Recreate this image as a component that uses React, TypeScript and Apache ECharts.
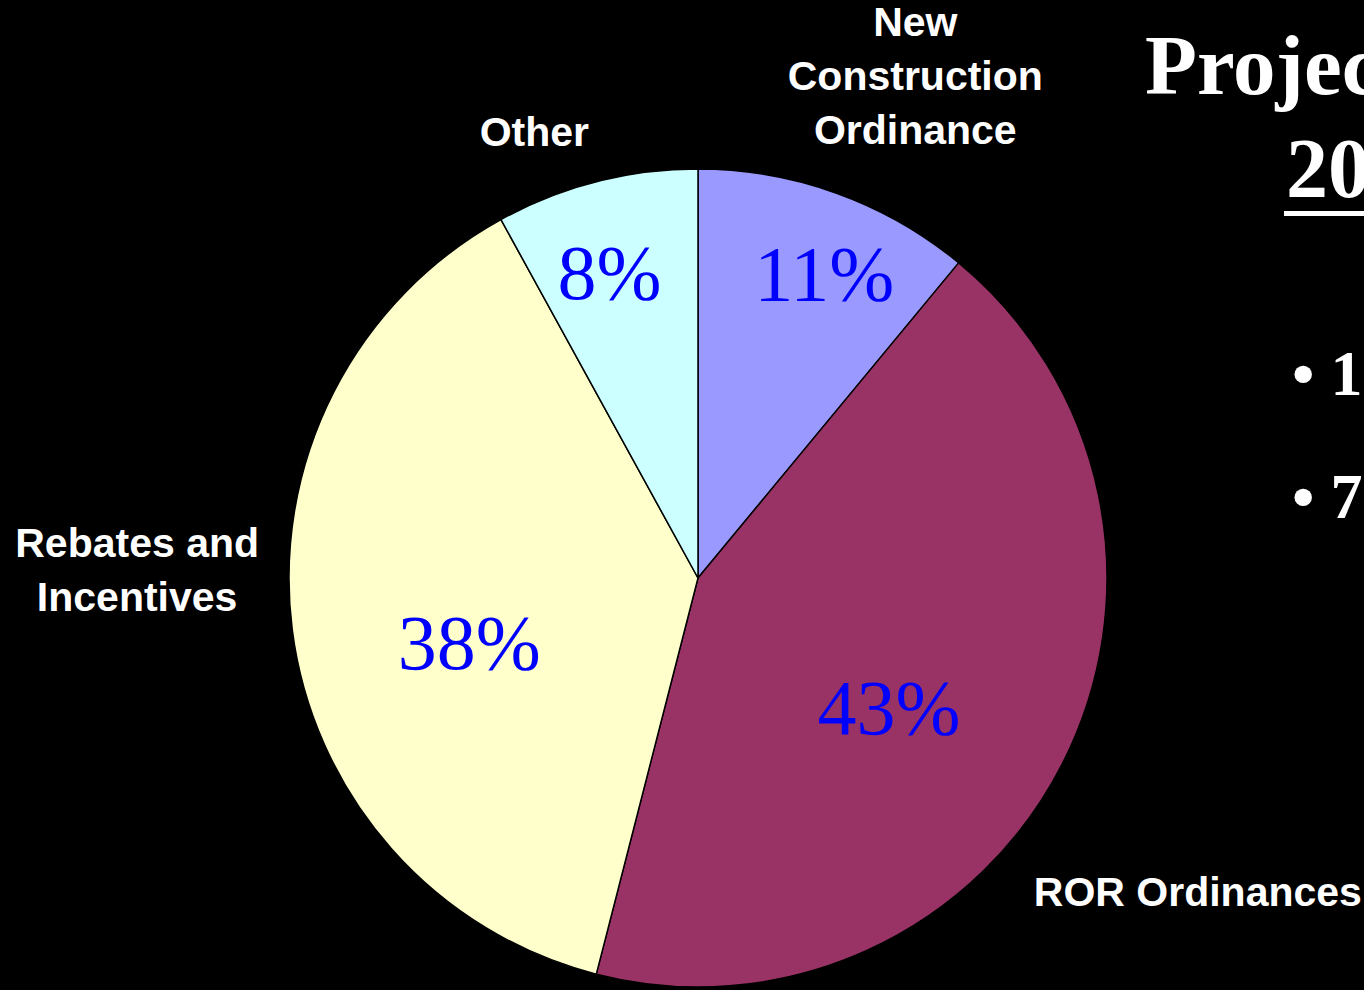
import React, { useEffect, useRef } from "react";
import * as echarts from "echarts";

// ---- data ----
const categories = [
  "New Construction Ordinance",
  "ROR Ordinances",
  "Rebates and Incentives",
  "Other",
];
const categoryLabels = [
  "New\nConstruction\nOrdinance",
  "ROR Ordinances",
  "Rebates and\nIncentives",
  "Other",
];
const shares = [11, 43, 38, 8];
const sliceColors = ["#9999FF", "#993366", "#FFFFCC", "#CCFFFF"];

const titleLines = ["Projec", "20"];
const bulletLines = ["\u2022 1", "\u2022 7"];

// ---- layout (label nudges from the default inside point) ----
const pctOffsets = [
  [56, -109],
  [6, 35],
  [-23, 38],
  [-37, -105],
];
const nameOffsets = [
  [147, -307],
  [315, 220],
  [-355, -34],
  [-112, -245],
];

export default function App() {
  const ref = useRef<HTMLDivElement>(null);

  useEffect(() => {
    if (!ref.current) return;
    const chart = echarts.init(ref.current, null, { renderer: "svg" });
    const data = categories.map((name, i) => ({
      name,
      value: shares[i],
      itemStyle: { color: sliceColors[i] },
    }));
    const center = [698, 578];
    const radius = 409;
    chart.setOption({
      animation: false,
      backgroundColor: "#000000",
      series: [
        {
          type: "pie",
          center,
          radius,
          startAngle: 90,
          clockwise: true,
          avoidLabelOverlap: false,
          silent: true,
          data,
          itemStyle: { borderColor: "#000000", borderWidth: 1.5 },
          label: {
            show: true,
            position: "inside",
            formatter: (p: any) => `${p.value}%`,
            color: "#0000FF",
            fontFamily: "'Liberation Serif', 'Times New Roman', serif",
            fontSize: 78,
            fontWeight: "normal",
          },
          labelLine: { show: false },
          labelLayout: (p: any) => ({
            dx: pctOffsets[p.dataIndex][0],
            dy: pctOffsets[p.dataIndex][1],
          }),
          emphasis: { disabled: true },
        },
        {
          type: "pie",
          center,
          radius,
          startAngle: 90,
          clockwise: true,
          avoidLabelOverlap: false,
          silent: true,
          data: data.map((d) => ({
            name: d.name,
            value: d.value,
            itemStyle: { color: "rgba(0,0,0,0)", borderWidth: 0 },
          })),
          label: {
            show: true,
            position: "inside",
            formatter: (p: any) => categoryLabels[p.dataIndex],
            color: "#FFFFFF",
            fontFamily: "'Liberation Sans', Arial, sans-serif",
            fontSize: 41,
            fontWeight: "bold",
            lineHeight: 54,
            align: "center",
          },
          labelLine: { show: false },
          labelLayout: (p: any) => ({
            dx: nameOffsets[p.dataIndex][0],
            dy: nameOffsets[p.dataIndex][1],
          }),
          emphasis: { disabled: true },
        },
      ],
      graphic: [
        {
          type: "text",
          left: 1145,
          top: 22,
          style: {
            text: titleLines[0],
            fill: "#FFFFFF",
            font: "bold 85px 'Liberation Serif', 'Times New Roman', serif",
          },
        },
        {
          type: "text",
          left: 1286,
          top: 126,
          style: {
            text: titleLines[1],
            fill: "#FFFFFF",
            font: "bold 84px 'Liberation Serif', 'Times New Roman', serif",
          },
        },
        {
          type: "rect",
          left: 1284,
          top: 211,
          shape: { width: 90, height: 5 },
          style: { fill: "#FFFFFF" },
        },
        {
          type: "text",
          left: 1292,
          top: 341,
          style: {
            text: bulletLines[0],
            fill: "#FFFFFF",
            font: "bold 64px 'Liberation Serif', 'Times New Roman', serif",
          },
        },
        {
          type: "text",
          left: 1292,
          top: 464,
          style: {
            text: bulletLines[1],
            fill: "#FFFFFF",
            font: "bold 64px 'Liberation Serif', 'Times New Roman', serif",
          },
        },
      ],
    });
    return () => chart.dispose();
  }, []);

  return (
    <div
      ref={ref}
      style={{
        position: "absolute",
        left: 0,
        top: 0,
        width: 1364,
        height: 990,
        background: "#000",
      }}
    />
  );
}
